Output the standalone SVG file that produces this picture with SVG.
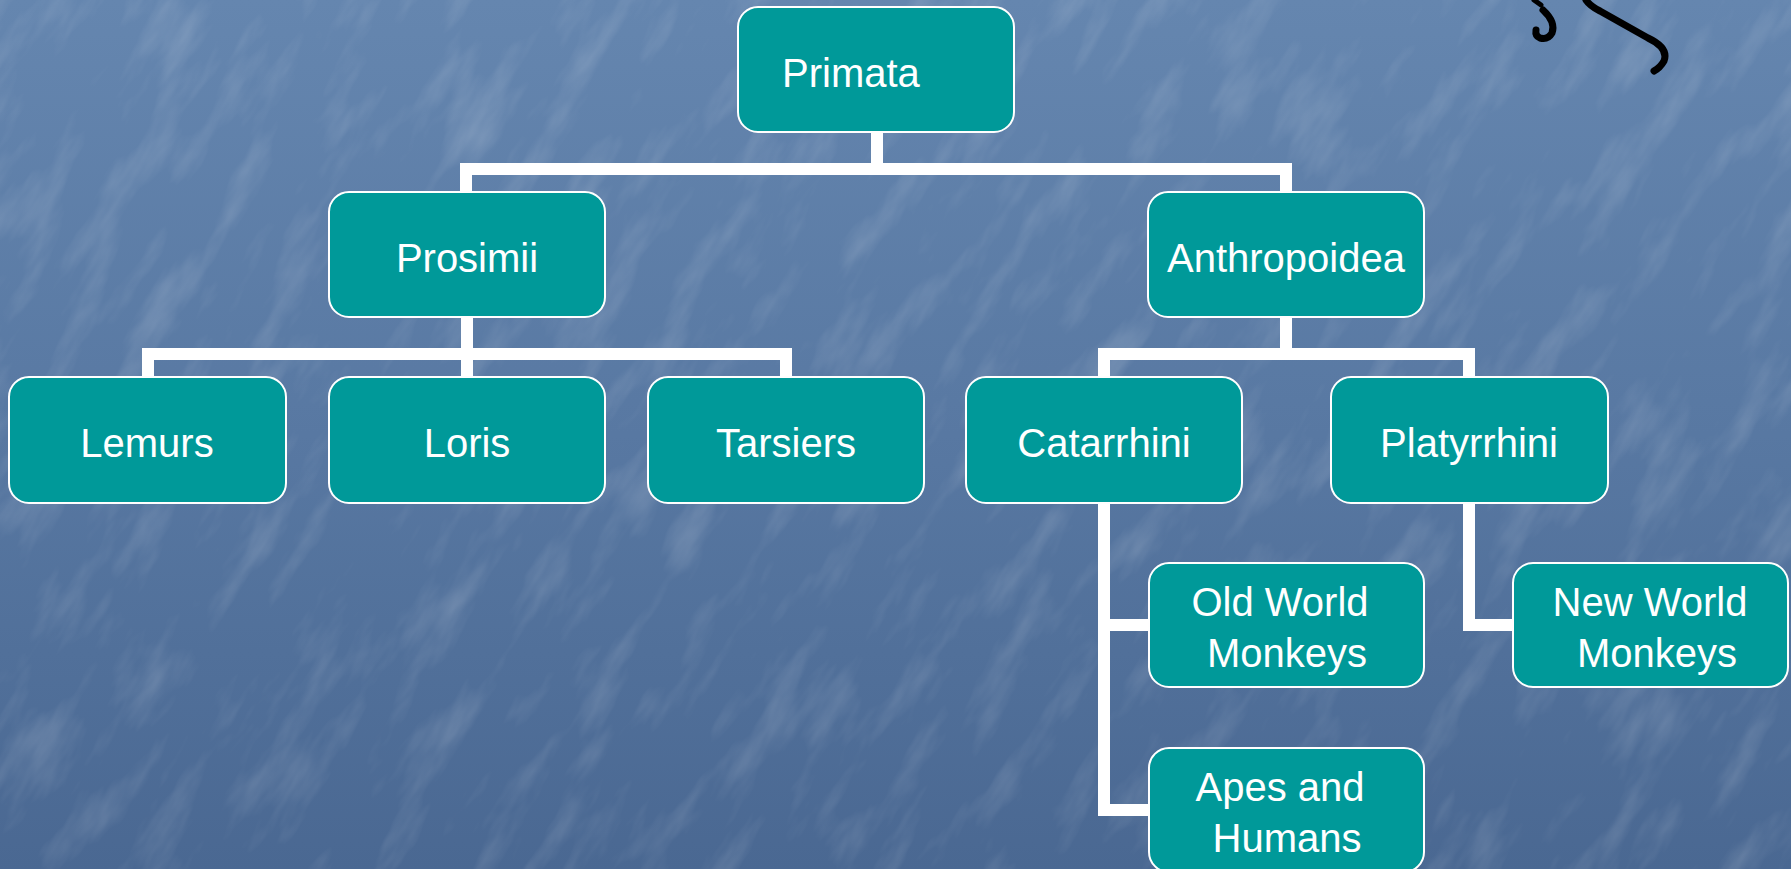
<svg xmlns="http://www.w3.org/2000/svg" width="1791" height="869" viewBox="0 0 1791 869">
<defs>
<linearGradient id="bg" x1="0" y1="0" x2="0" y2="1">
<stop offset="0" stop-color="#6586af"/>
<stop offset="0.5" stop-color="#5878a2"/>
<stop offset="1" stop-color="#4a6892"/>
</linearGradient>
<filter id="tex" x="0" y="0" width="100%" height="100%">
<feTurbulence type="fractalNoise" baseFrequency="0.009 0.03" numOctaves="4" seed="7" result="n"/>
<feColorMatrix in="n" type="matrix" values="0 0 0 0 1  0 0 0 0 1  0 0 0 0 1  0 0 0 1.6 -0.8" result="w"/>
<feComposite in="w" in2="SourceGraphic" operator="in"/>
</filter>
<style>
.node rect{fill:#009999;stroke:#ffffff;stroke-width:2}
.node text{font-family:"Liberation Sans",Arial,sans-serif;font-size:40px;fill:#ffffff;text-anchor:middle}
.conn line{stroke:#ffffff;stroke-width:12;stroke-linecap:square}
.ink{fill:none;stroke:#000000;stroke-linecap:round;stroke-linejoin:round}
</style>
</defs>
<rect x="0" y="0" width="1791" height="869" fill="url(#bg)"/>
<g opacity="0.22">
<rect x="-600" y="-600" width="3000" height="2100" fill="#ffffff" filter="url(#tex)" transform="rotate(-58 895 434)"/>
</g>
<g id="clipart">
<path class="ink" d="M1534,0 L1541,5" stroke-width="5"/>
<path class="ink" d="M1543,10 Q1556,22 1552,33 Q1548,40 1540,38 Q1535,36 1536,30" stroke-width="7"/>
<path class="ink" d="M1586,0 Q1590,6 1600,11 L1648,38 Q1669,48 1664,61 Q1660,68 1654,71" stroke-width="7"/>
</g>
<g id="connectors" class="conn">
<line x1="877" y1="132" x2="877" y2="169"/>
<line x1="466" y1="169" x2="1286" y2="169"/>
<line x1="466" y1="169" x2="466" y2="192"/>
<line x1="1286" y1="169" x2="1286" y2="192"/>
<line x1="467" y1="317" x2="467" y2="377"/>
<line x1="148" y1="354" x2="786" y2="354"/>
<line x1="148" y1="354" x2="148" y2="377"/>
<line x1="786" y1="354" x2="786" y2="377"/>
<line x1="1286" y1="317" x2="1286" y2="354"/>
<line x1="1104" y1="354" x2="1469" y2="354"/>
<line x1="1104" y1="354" x2="1104" y2="377"/>
<line x1="1469" y1="354" x2="1469" y2="377"/>
<line x1="1104" y1="503" x2="1104" y2="810"/>
<line x1="1104" y1="625" x2="1149" y2="625"/>
<line x1="1104" y1="810" x2="1149" y2="810"/>
<line x1="1469" y1="503" x2="1469" y2="625"/>
<line x1="1469" y1="625" x2="1513" y2="625"/>
</g>
<g id="primata" class="node"><rect x="738" y="7" width="276" height="125" rx="20"/><text x="782" y="87" style="text-anchor:start">Primata</text></g>
<g id="prosimii" class="node"><rect x="329" y="192" width="276" height="125" rx="20"/><text x="467" y="272">Prosimii</text></g>
<g id="anthropoidea" class="node"><rect x="1148" y="192" width="276" height="125" rx="20"/><text x="1286" y="272">Anthropoidea</text></g>
<g id="lemurs" class="node"><rect x="9" y="377" width="277" height="126" rx="20"/><text x="147" y="457">Lemurs</text></g>
<g id="loris" class="node"><rect x="329" y="377" width="276" height="126" rx="20"/><text x="467" y="457">Loris</text></g>
<g id="tarsiers" class="node"><rect x="648" y="377" width="276" height="126" rx="20"/><text x="786" y="457">Tarsiers</text></g>
<g id="catarrhini" class="node"><rect x="966" y="377" width="276" height="126" rx="20"/><text x="1104" y="457">Catarrhini</text></g>
<g id="platyrrhini" class="node"><rect x="1331" y="377" width="277" height="126" rx="20"/><text x="1469" y="457">Platyrrhini</text></g>
<g id="oldworld" class="node"><rect x="1149" y="563" width="275" height="124" rx="20"/><text x="1280" y="616">Old World</text><text x="1287" y="667">Monkeys</text></g>
<g id="newworld" class="node"><rect x="1513" y="563" width="275" height="124" rx="20"/><text x="1650" y="616">New World</text><text x="1657" y="667">Monkeys</text></g>
<g id="apes" class="node"><rect x="1149" y="748" width="275" height="124" rx="20"/><text x="1280" y="801">Apes and</text><text x="1287" y="852">Humans</text></g>
</svg>
